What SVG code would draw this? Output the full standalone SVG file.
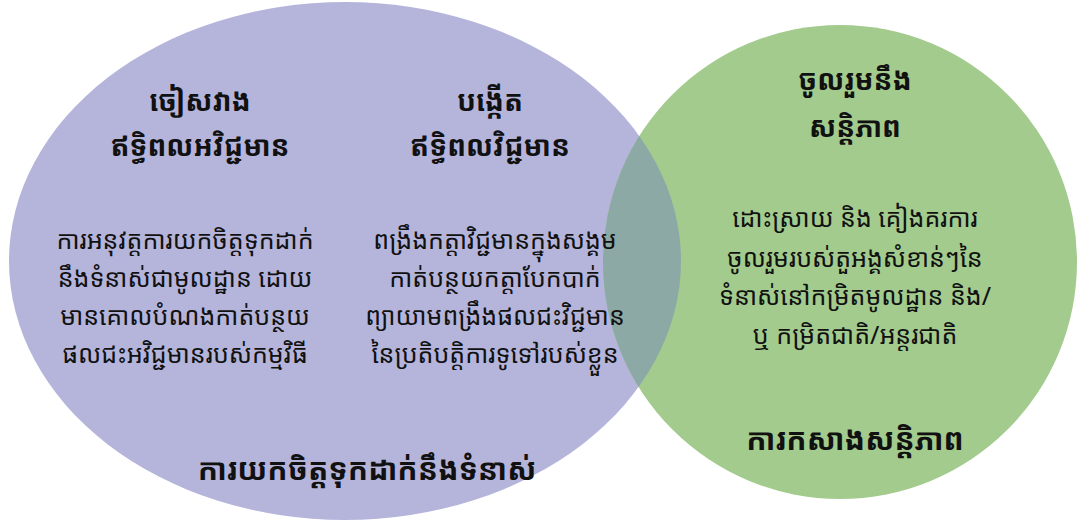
<svg xmlns="http://www.w3.org/2000/svg" width="1077" height="522" viewBox="0 0 1077 522">
<style>
text{font-family:"Noto Sans Khmer","Noto Serif Khmer","Khmer OS","Khmer OS System","DejaVu Sans",sans-serif;fill:#111;text-anchor:middle}
.h{font-size:28px;font-weight:bold}
.b{font-size:25px}
.t{font-size:30px;font-weight:bold}
</style>
<defs>
<clipPath id="cl"><ellipse cx="345" cy="261" rx="336" ry="259"/></clipPath>
</defs>
<g id="shapes">
<ellipse id="left" cx="345" cy="261" rx="336" ry="259" fill="#b5b5dc"/>
<circle id="right" cx="840" cy="262" r="237" fill="#a3cb8e"/>
<circle id="overlap" cx="840" cy="262" r="237" fill="#8da9a6" clip-path="url(#cl)"/>
</g>
<g id="avoid">
<text class="h" x="200" y="111">ចៀសវាង</text>
<text class="h" x="200" y="156">ឥទ្ធិពលអវិជ្ជមាន</text>
<text class="b" x="185" y="249">ការអនុវត្តការយកចិត្តទុកដាក់</text>
<text class="b" x="185" y="287">នឹងទំនាស់ជាមូលដ្ឋាន ដោយ</text>
<text class="b" x="185" y="325">មានគោលបំណងកាត់បន្ថយ</text>
<text class="b" x="185" y="363">ផលជះអវិជ្ជមានរបស់កម្មវិធី</text>
</g>
<g id="create">
<text class="h" x="490" y="111">បង្កើត</text>
<text class="h" x="490" y="156">ឥទ្ធិពលវិជ្ជមាន</text>
<text class="b" x="495" y="249">ពង្រឹងកត្តាវិជ្ជមានក្នុងសង្គម</text>
<text class="b" x="495" y="287">កាត់បន្ថយកត្តាបែកបាក់</text>
<text class="b" x="495" y="325">ព្យាយាមពង្រឹងផលជះវិជ្ជមាន</text>
<text class="b" x="495" y="363">នៃប្រតិបត្តិការទូទៅរបស់ខ្លួន</text>
</g>
<g id="engage">
<text class="h" x="855" y="90">ចូលរួមនឹង</text>
<text class="h" x="855" y="137">សន្តិភាព</text>
<text class="b" x="855" y="227">ដោះស្រាយ និង គៀងគរការ</text>
<text class="b" x="855" y="267">ចូលរួមរបស់តួអង្គសំខាន់ៗនៃ</text>
<text class="b" x="855" y="305">ទំនាស់នៅកម្រិតមូលដ្ឋាន និង/</text>
<text class="b" x="855" y="344">ឬ កម្រិតជាតិ/អន្តរជាតិ</text>
</g>
<g id="labels">
<text class="t" x="367" y="480">ការយកចិត្តទុកដាក់នឹងទំនាស់</text>
<text class="t" x="855" y="450">ការកសាងសន្តិភាព</text>
</g>
</svg>
